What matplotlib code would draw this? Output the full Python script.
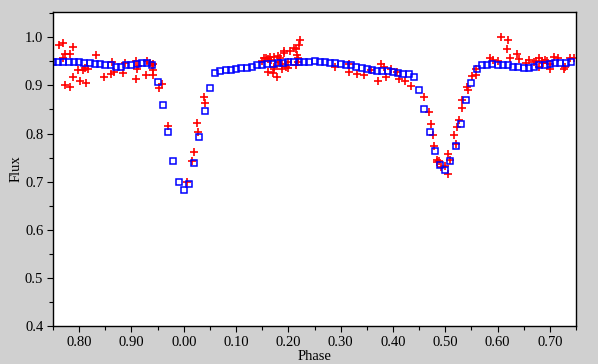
import numpy as np
import matplotlib
matplotlib.use("Agg")
import matplotlib.pyplot as plt
from matplotlib.ticker import MultipleLocator, FuncFormatter

# model light curve (blue squares), one point every 0.01 in phase
model_phase = np.round(np.arange(-0.25, 0.745, 0.01), 2)
model_flux = [
    0.948, 0.948, 0.948, 0.948, 0.948, 0.948, 0.946, 0.946, 0.944, 0.944,
    0.942, 0.942, 0.939, 0.939, 0.942, 0.942, 0.945, 0.946, 0.946, 0.942,
    0.908, 0.860, 0.804, 0.742, 0.700, 0.682, 0.696, 0.738, 0.792, 0.846,
    0.894, 0.925, 0.931, 0.933, 0.933, 0.935, 0.937, 0.937, 0.939, 0.942,
    0.942, 0.944, 0.944, 0.946, 0.946, 0.948, 0.948, 0.948, 0.948, 0.948,
    0.950, 0.948, 0.948, 0.946, 0.946, 0.944, 0.942, 0.942, 0.939, 0.937,
    0.935, 0.933, 0.931, 0.931, 0.929, 0.927, 0.925, 0.923, 0.923, 0.917,
    0.890, 0.850, 0.804, 0.763, 0.734, 0.725, 0.742, 0.775, 0.819, 0.869,
    0.906, 0.935, 0.942, 0.942, 0.944, 0.942, 0.942, 0.942, 0.939, 0.939,
    0.937, 0.937, 0.939, 0.942, 0.942, 0.944, 0.946, 0.946, 0.946, 0.948,
]

# observations (red crosses)
obs_phase = [
    -0.238, -0.230, -0.2265, -0.217, -0.230, -0.211, -0.2016, -0.192, -0.189, -0.1825,
    -0.198, -0.186, -0.2265, -0.217, -0.211, -0.167, -0.152, -0.1366, -0.1385, -0.133,
    -0.1156, -0.112, -0.091, -0.091, -0.089, -0.087, -0.070, -0.072, -0.064, -0.060,
    -0.058, -0.058, -0.0594, -0.0467, -0.041, -0.0295,
    0.006, 0.016, 0.020, 0.026, 0.028, 0.039, 0.041,
    0.223, 0.221, 0.210, 0.215, 0.192, 0.2037, 0.217, 0.192, 0.219, 0.181,
    0.173, 0.1655, 0.154, 0.158, 0.162, 0.1846, 0.150, 0.167, 0.181, 0.200,
    0.219, 0.1884, 0.215, 0.173, 0.196, 0.188, 0.200, 0.173, 0.162, 0.171, 0.179,
    0.290, 0.3166, 0.3166, 0.332, 0.345, 0.358, 0.372, 0.3777, 0.383, 0.387,
    0.397, 0.408, 0.412, 0.4236, 0.435,
    0.460, 0.4695, 0.4733, 0.477, 0.479, 0.485, 0.4886, 0.485, 0.4925, 0.500,
    0.506, 0.506, 0.5097, 0.5173, 0.521, 0.523, 0.527, 0.5326, 0.5326, 0.542,
    0.544, 0.552, 0.559, 0.559,
    0.586, 0.592, 0.601, 0.607, 0.6206, 0.6187, 0.624, 0.638, 0.6416, 0.655,
    0.661, 0.670, 0.674, 0.680, 0.680, 0.6856, 0.6875, 0.691, 0.6945, 0.701,
    0.701, 0.7085, 0.716, 0.7276, 0.7295, 0.739, 0.747,
]
obs_flux = [
    0.985, 0.989, 0.966, 0.966, 0.958, 0.979, 0.933, 0.933, 0.936, 0.935,
    0.910, 0.906, 0.900, 0.896, 0.9165, 0.964, 0.918, 0.948, 0.923, 0.927,
    0.925, 0.9456, 0.950, 0.914, 0.935, 0.9394, 0.950, 0.921, 0.9456, 0.9415,
    0.933, 0.921, 0.944, 0.894, 0.902, 0.815,
    0.700, 0.743, 0.761, 0.821, 0.803, 0.875, 0.8625,
    0.995, 0.985, 0.977, 0.975, 0.9725, 0.9725, 0.964, 0.968, 0.958, 0.962,
    0.960, 0.960, 0.958, 0.956, 0.954, 0.956, 0.950, 0.952, 0.948, 0.948,
    0.948, 0.9435, 0.9415, 0.939, 0.939, 0.935, 0.937, 0.935, 0.927, 0.925, 0.918,
    0.939, 0.9435, 0.927, 0.923, 0.921, 0.933, 0.910, 0.9435, 0.939, 0.918,
    0.935, 0.927, 0.914, 0.910, 0.898,
    0.875, 0.844, 0.819, 0.796, 0.775, 0.746, 0.742, 0.740, 0.730, 0.732,
    0.715, 0.757, 0.746, 0.796, 0.779, 0.813, 0.829, 0.854, 0.869, 0.896,
    0.890, 0.919, 0.921, 0.935,
    0.956, 0.952, 0.950, 1.000, 0.995, 0.975, 0.956, 0.966, 0.954, 0.9456,
    0.952, 0.948, 0.950, 0.958, 0.939, 0.950, 0.9456, 0.952, 0.950, 0.935,
    0.9435, 0.960, 0.956, 0.935, 0.939, 0.958, 0.956,
]

plt.rcParams["font.family"] = ["Liberation Serif", "DejaVu Serif"]
plt.rcParams["font.size"] = 10.5

fig = plt.figure(figsize=(5.98, 3.64), dpi=100, facecolor="#d0d0d0")
fig.subplots_adjust(left=53 / 598, right=576 / 598, bottom=1 - 326 / 364, top=1 - 12 / 364)
ax = fig.add_subplot(111)
ax.set_facecolor("white")

ax.plot(obs_phase, obs_flux, "+", color="#ff0000", markersize=5.5, mew=1.2, linestyle="none")
ax.plot(model_phase, model_flux, "s", color="#0000ff", mfc="none", markersize=4.5, mew=1.1,
        linestyle="none")

ax.set_xlim(-0.25, 0.75)
ax.set_ylim(0.4, 1.0526)
ax.xaxis.set_major_locator(MultipleLocator(0.1))
ax.xaxis.set_minor_locator(MultipleLocator(0.05))
ax.yaxis.set_major_locator(MultipleLocator(0.1))
ax.yaxis.set_minor_locator(MultipleLocator(0.05))
ax.xaxis.set_major_formatter(FuncFormatter(lambda v, p: "%.2f" % (round(v, 3) % 1.0)))
ax.yaxis.set_major_formatter(FuncFormatter(lambda v, p: "%.1f" % v))
ax.tick_params(which="major", direction="out", length=4, width=0.8, colors="black", pad=3)
ax.tick_params(which="minor", direction="out", length=3, width=0.8)
for s in ax.spines.values():
    s.set_linewidth(1.0)
    s.set_color("black")

ax.set_xlabel("Phase", labelpad=1)
ax.set_ylabel("Flux", labelpad=2)

fig.savefig("out.png", dpi=100, facecolor=fig.get_facecolor())
